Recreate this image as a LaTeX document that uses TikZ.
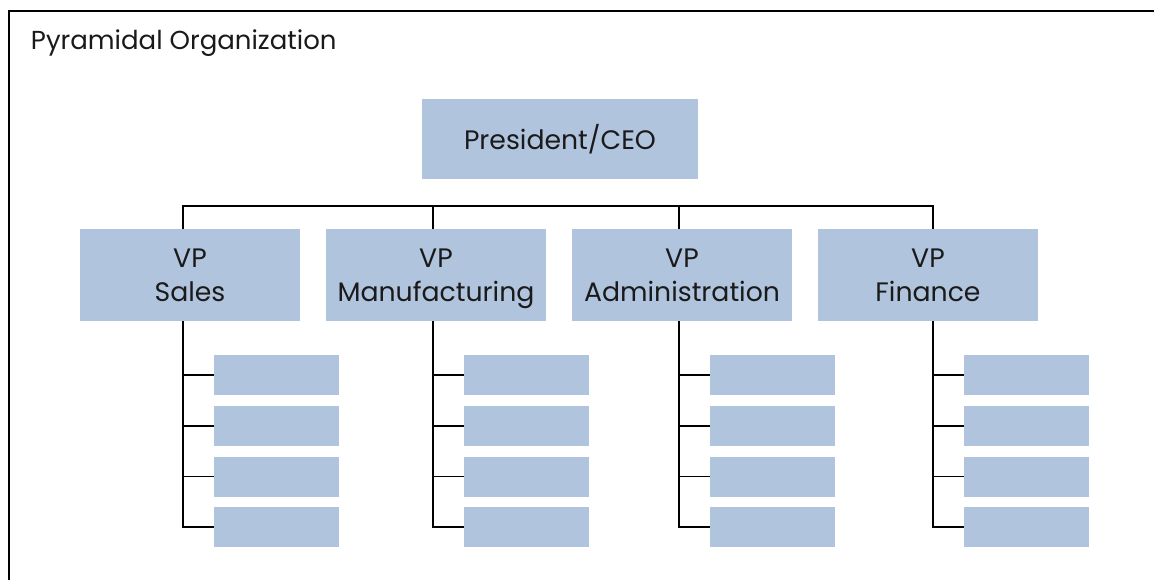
\documentclass[tikz,border=0pt]{standalone}
\usepackage{fontspec}
\setmainfont{Poppins}
\usetikzlibrary{positioning}

\definecolor{boxblue}{HTML}{B0C4DE}
\definecolor{inkgray}{HTML}{1A1A1A}

\begin{document}
\begin{tikzpicture}
\useasboundingbox (0,0) rectangle (28.85,-14.5);
% outer frame and heading
\draw[line width=1.4pt] (0.225,-15) -- (0.225,-0.275) -- (29.5,-0.275);
\node[anchor=base west,font=\fontsize{18.5}{22}\selectfont,text=inkgray] (title) at (0.65,-1.25) {Pyramidal Organization};
% Draw Org Chart
   \begin{scope}[ node distance=6.15cm,on grid,
                   top/.style={rectangle,fill=boxblue,minimum width=6.9cm,minimum height=2cm,
                               font=\fontsize{19}{22}\selectfont,text=inkgray},
                   vp/.style={rectangle,fill=boxblue,minimum width=5.5cm,minimum height=2.3cm,
                              align=center,font=\fontsize{19}{24}\selectfont,text=inkgray,
                              text depth=0pt},
                   sub/.style={rectangle,fill=boxblue,minimum width=3.125cm,minimum height=1cm},
                   wire/.style={line width=1.2pt,black} ]
     \node [top] (ceo)   at (14,-3.475)   {President/CEO};
     \node [vp]  (sales) at (4.75,-6.875) {VP\\Sales};
     \node [vp]  (manuf) [right=of sales] {VP\\Manufacturing};
     \node [vp]  (admin) [right=of manuf] {VP\\Administration};
     \node [vp]  (fin)   [right=of admin] {VP\\Finance};
     % spine foot under each VP
     \coordinate (sp1) at ([xshift=-0.175cm]sales.south);
     \coordinate (sp2) at ([xshift=-0.075cm]manuf.south);
     \coordinate (sp3) at ([xshift=-0.075cm]admin.south);
     \coordinate (sp4) at ([xshift=0.125cm]fin.south);
     % empty boxes under each VP
     \node [sub] (s1) at ([shift={(2.34cm,-1.35cm)}]sp1) {};
     \node [sub] (s2) [below=1.267cm of s1] {};
     \node [sub] (s3) [below=1.267cm of s2] {};
     \node [sub] (s4) [below=1.267cm of s3] {};
     \node [sub] (m1) at ([shift={(2.34cm,-1.35cm)}]sp2) {};
     \node [sub] (m2) [below=1.267cm of m1] {};
     \node [sub] (m3) [below=1.267cm of m2] {};
     \node [sub] (m4) [below=1.267cm of m3] {};
     \node [sub] (a1) at ([shift={(2.34cm,-1.35cm)}]sp3) {};
     \node [sub] (a2) [below=1.267cm of a1] {};
     \node [sub] (a3) [below=1.267cm of a2] {};
     \node [sub] (a4) [below=1.267cm of a3] {};
     \node [sub] (f1) at ([shift={(2.34cm,-1.35cm)}]sp4) {};
     \node [sub] (f2) [below=1.267cm of f1] {};
     \node [sub] (f3) [below=1.267cm of f2] {};
     \node [sub] (f4) [below=1.267cm of f3] {};
     % bus over the VP row
     \coordinate (bus) at (14,-5.15);
     \draw [wire] (sp1 |- sales.north) |- (bus) -| (sp4 |- fin.north);
     \draw [wire] (sp2 |- manuf.north) -- (sp2 |- bus);
     \draw [wire] (sp3 |- admin.north) -- (sp3 |- bus);
     % spines down to the boxes
     \draw [wire] (sp1) |- (s4.west);
     \draw [wire] (s1.west) -- (s1.west -| sp1);
     \draw [wire] (s2.west) -- (s2.west -| sp1);
     \draw [wire] (s3.west) -- (s3.west -| sp1);
     \draw [wire] (sp2) |- (m4.west);
     \draw [wire] (m1.west) -- (m1.west -| sp2);
     \draw [wire] (m2.west) -- (m2.west -| sp2);
     \draw [wire] (m3.west) -- (m3.west -| sp2);
     \draw [wire] (sp3) |- (a4.west);
     \draw [wire] (a1.west) -- (a1.west -| sp3);
     \draw [wire] (a2.west) -- (a2.west -| sp3);
     \draw [wire] (a3.west) -- (a3.west -| sp3);
     \draw [wire] (sp4) |- (f4.west);
     \draw [wire] (f1.west) -- (f1.west -| sp4);
     \draw [wire] (f2.west) -- (f2.west -| sp4);
     \draw [wire] (f3.west) -- (f3.west -| sp4);
   \end{scope}
\end{tikzpicture}
\end{document}
